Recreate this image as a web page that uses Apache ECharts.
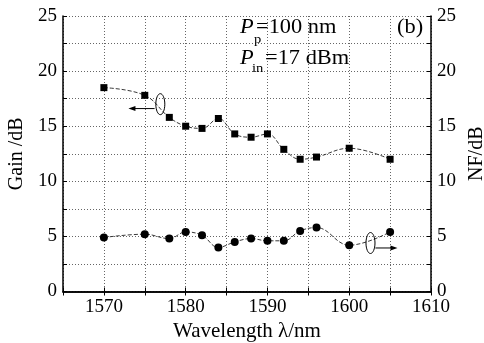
<!DOCTYPE html>
<html><head><meta charset="utf-8">
<script src="https://cdn.jsdelivr.net/npm/echarts@6/dist/echarts.min.js"></script>
<style>html,body{margin:0;padding:0;background:#fff}#c{width:484px;height:343px}</style>
</head><body><div id="c"></div>
<script>
var wavelengths = [1570,1575,1578,1580,1582,1584,1586,1588,1590,1592,1594,1596,1600,1605];
var gainValues = [18.5,17.8,15.8,15.0,14.8,15.7,14.3,14.0,14.3,12.9,12.0,12.2,13.0,12.0];
var nfValues = [4.9,5.2,4.8,5.4,5.1,4.0,4.5,4.8,4.6,4.6,5.5,5.8,4.2,5.4];
var xTickLabels = [1570,1580,1590,1600,1610];
var yTickLabels = [0,5,10,15,20,25];

var FONT = '"Liberation Serif","DejaVu Serif",serif';
function pairs(xs, ys){ return xs.map(function(x,i){return [x, ys[i]];}); }

var axisLine = {show:true, lineStyle:{color:'#000', width:1.5}};
var split = {show:true, lineStyle:{color:'#666', type:[1,2], width:1}};
function yAxis(pos, name, gap){
  return {type:'value', position:pos, min:0, max:25, interval:2.5,
    name:name, nameLocation:'middle', nameGap:gap, nameRotate:90,
    nameTextStyle:{fontFamily:FONT, fontSize:20, color:'#000'},
    axisLine:axisLine, axisTick:{show:true, inside:true, length:4, lineStyle:{color:'#000'}},
    axisLabel:{fontFamily:FONT, fontSize:19, color:'#000', margin:6,
      formatter:function(v){ return yTickLabels.indexOf(v)>=0 ? String(v) : ''; }},
    splitLine: pos==='left' ? split : {show:false}};
}
var chart = echarts.init(document.getElementById('c'));
chart.setOption({
  animation:false,
  backgroundColor:'#fff',
  grid:{left:63, right:53, top:16, bottom:51.5, outerBoundsMode:'none', containLabel:false},
  xAxis:[{type:'value', min:1565, max:1610, interval:5,
    name:'Wavelength λ/nm', nameLocation:'middle', nameGap:26,
    nameTextStyle:{fontFamily:FONT, fontSize:21, color:'#000'},
    axisLine:axisLine, axisTick:{show:true, inside:true, length:4, lineStyle:{color:'#000'}},
    axisLabel:{fontFamily:FONT, fontSize:19, color:'#000', margin:6,
      formatter:function(v){ return xTickLabels.indexOf(v)>=0 ? String(v) : ''; }},
    splitLine:split},
   {type:'value', position:'top', min:1565, max:1610, interval:5,
    axisLine:axisLine, axisTick:{show:true, inside:true, length:4, lineStyle:{color:'#000'}},
    axisLabel:{show:false}, splitLine:{show:false}}],
  yAxis:[yAxis('left','Gain /dB',29), yAxis('right','NF/dB',31)],
  series:[
    {type:'line', name:'Gain', xAxisIndex:0, yAxisIndex:0, data:pairs(wavelengths, gainValues),
     smooth:0.4, symbol:'rect', symbolSize:7, itemStyle:{color:'#000'},
     lineStyle:{color:'#222', width:0.9, type:[4,2]}},
    {type:'line', name:'NF', xAxisIndex:0, yAxisIndex:1, data:pairs(wavelengths, nfValues),
     smooth:0.4, symbol:'circle', symbolSize:8, itemStyle:{color:'#000'},
     lineStyle:{color:'#222', width:0.9, type:[4,2]}}
  ]
});

function px(x,y){ return chart.convertToPixel({gridIndex:0}, [x,y]); }
function ellipse(x,y){ var p=px(x,y); return {type:'ellipse', shape:{cx:p[0], cy:p[1], rx:4.5, ry:10.5}, style:{fill:null, stroke:'#000', lineWidth:1}, z:10}; }
function arrow(x1,x2,y){
  var a=px(x1,y), b=px(x2,y), d = b[0]>a[0]?1:-1;
  return [{type:'line', shape:{x1:a[0], y1:a[1], x2:b[0]-d*5, y2:b[1]}, style:{stroke:'#000', lineWidth:1}, z:10},
          {type:'polygon', shape:{points:[[b[0],b[1]],[b[0]-d*7,b[1]-2.5],[b[0]-d*7,b[1]+2.5]]}, style:{fill:'#000'}, z:10}];
}
function txt(l,t,s,size,italic){
  return {type:'text', x:l, y:t, z:20, scaleX:1.12,
    style:{text:s, font:(italic?'italic ':'')+size+'px '+FONT, fill:'#000'}};
}
var g = [ellipse(1576.9,17.0), ellipse(1602.6,4.4)]
  .concat(arrow(1576.2,1573.0,16.6))
  .concat(arrow(1603.2,1605.9,3.95))
  .concat([
    txt(240,18,'P',20,true), txt(254,33,'p',13,false), txt(256,18,'=100 nm',20,false),
    txt(240,49,'P',20,true), txt(252,62,'in',13,false), txt(265,49,'=17 dBm',20,false),
    txt(397,18,'(b)',20,false)
  ]);
chart.setOption({graphic:g});
</script></body></html>
